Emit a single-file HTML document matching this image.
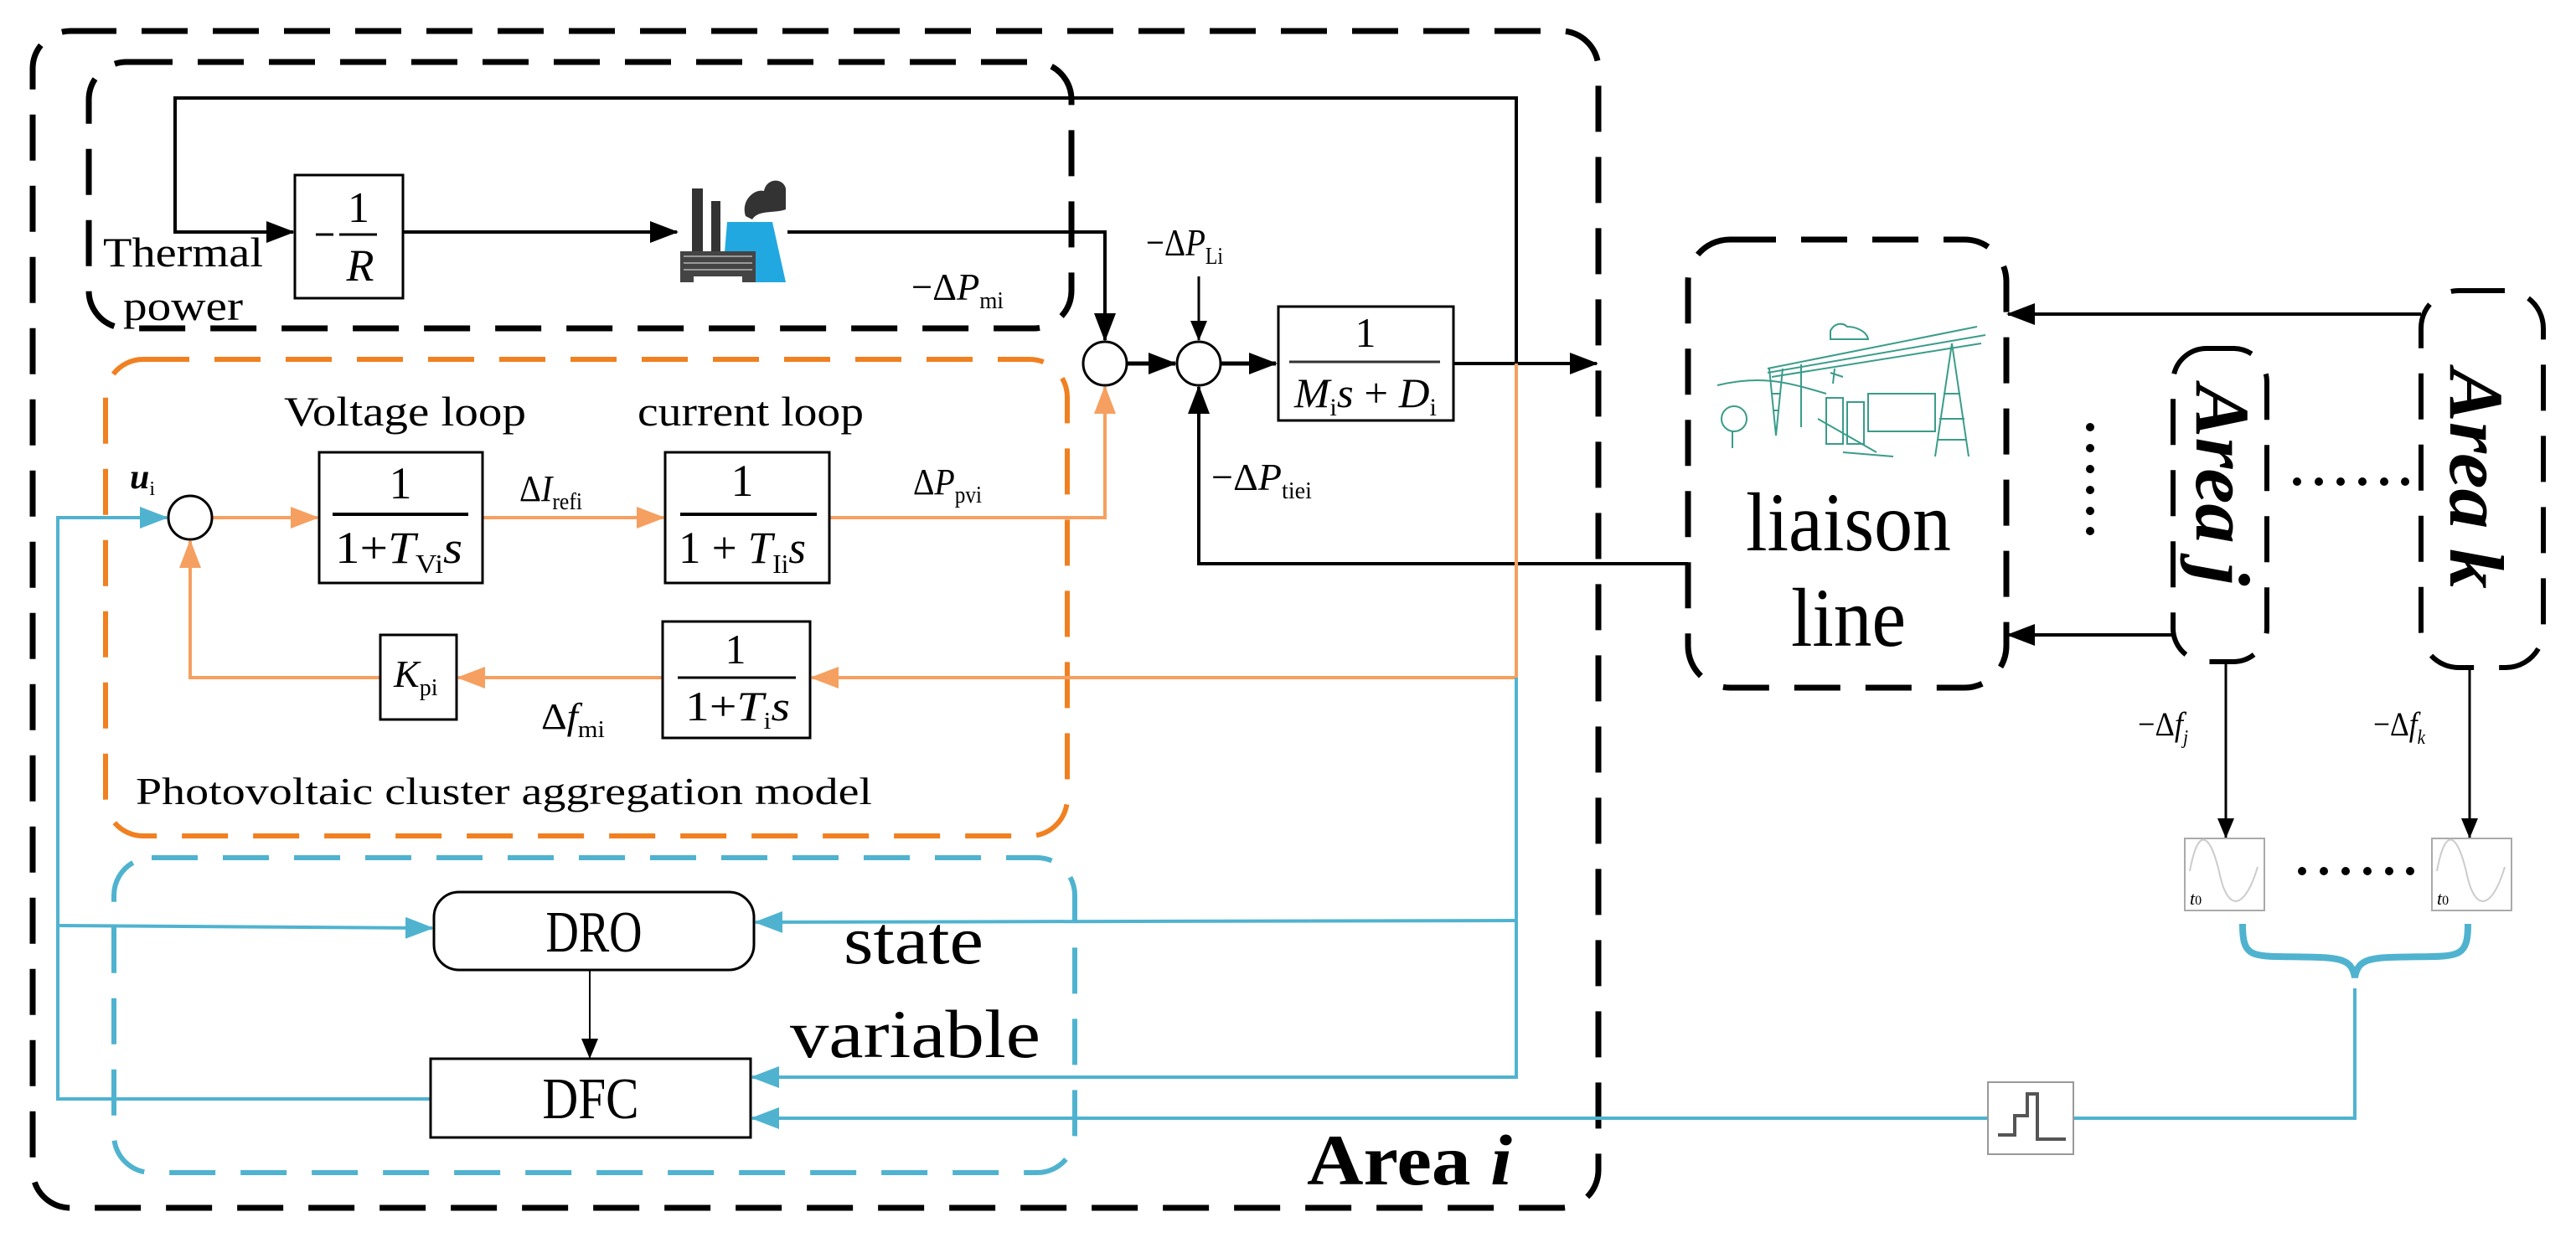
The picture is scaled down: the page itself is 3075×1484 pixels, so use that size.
<!DOCTYPE html>
<html><head><meta charset="utf-8"><style>
html,body{margin:0;padding:0;background:#fff;}
svg{display:block;}
text{font-family:"Liberation Serif",serif;fill:#000;}
</style></head><body>
<svg width="3075" height="1484" viewBox="0 0 3075 1484" xmlns="http://www.w3.org/2000/svg">
<defs>
<marker id="ab" markerUnits="userSpaceOnUse" markerWidth="34" markerHeight="26" refX="32" refY="13" orient="auto"><path d="M0,0 L34,13 L0,26 Z" fill="#000"/></marker>
<marker id="abs" markerUnits="userSpaceOnUse" markerWidth="24" markerHeight="20" refX="23" refY="10" orient="auto"><path d="M0,0 L24,10 L0,20 Z" fill="#000"/></marker>
<marker id="ao" markerUnits="userSpaceOnUse" markerWidth="34" markerHeight="26" refX="32" refY="13" orient="auto"><path d="M0,0 L34,13 L0,26 Z" fill="#f5a060"/></marker>
<marker id="ac" markerUnits="userSpaceOnUse" markerWidth="34" markerHeight="26" refX="32" refY="13" orient="auto"><path d="M0,0 L34,13 L0,26 Z" fill="#4fb3d0"/></marker>
</defs>

<!-- Dashed containers -->
<rect x="39" y="37" width="1869" height="1405" rx="45" fill="none" stroke="#000" stroke-width="7" stroke-dasharray="55 30"/>
<rect x="106" y="74" width="1173" height="318" rx="45" fill="none" stroke="#000" stroke-width="7" stroke-dasharray="55 30"/>
<rect x="126" y="429" width="1148" height="569" rx="45" fill="none" stroke="#f08020" stroke-width="6" stroke-dasharray="55 30"/>
<rect x="136" y="1024" width="1147" height="376" rx="45" fill="none" stroke="#4fb3d0" stroke-width="6" stroke-dasharray="55 30"/>
<rect x="2015" y="286" width="380" height="535" rx="50" fill="none" stroke="#000" stroke-width="7" stroke-dasharray="55 30"/>
<rect x="2594" y="416" width="112" height="374" rx="40" fill="none" stroke="#000" stroke-width="6" stroke-dasharray="55 30"/>
<rect x="2890" y="347" width="146" height="450" rx="45" fill="none" stroke="#000" stroke-width="6" stroke-dasharray="55 30"/>

<!-- Black signal lines -->
<polyline points="1810,434 1810,117 209,117 209,277 350,277" fill="none" stroke="#000" stroke-width="4" marker-end="url(#ab)"/>
<line x1="481" y1="277" x2="808" y2="277" stroke="#000" stroke-width="4" marker-end="url(#ab)"/>
<polyline points="940,277 1319,277 1319,406" fill="none" stroke="#000" stroke-width="4" marker-end="url(#ab)"/>
<line x1="1345" y1="434" x2="1403" y2="434" stroke="#000" stroke-width="5" marker-end="url(#ab)"/>
<line x1="1431" y1="330" x2="1431" y2="406" stroke="#000" stroke-width="3" marker-end="url(#abs)"/>
<line x1="1457" y1="434" x2="1523" y2="434" stroke="#000" stroke-width="5" marker-end="url(#ab)"/>
<line x1="1735" y1="434" x2="1906" y2="434" stroke="#000" stroke-width="4" marker-end="url(#ab)"/>
<polyline points="2015,673 1431,673 1431,462" fill="none" stroke="#000" stroke-width="4" marker-end="url(#ab)"/>
<line x1="2890" y1="375" x2="2397" y2="375" stroke="#000" stroke-width="4" marker-end="url(#ab)"/>
<line x1="2594" y1="758" x2="2397" y2="758" stroke="#000" stroke-width="4" marker-end="url(#ab)"/>
<line x1="2657" y1="790" x2="2657" y2="1000" stroke="#000" stroke-width="3" marker-end="url(#abs)"/>
<line x1="2948" y1="797" x2="2948" y2="1000" stroke="#000" stroke-width="3" marker-end="url(#abs)"/>
<line x1="704" y1="1158" x2="704" y2="1263" stroke="#000" stroke-width="2" marker-end="url(#abs)"/>

<!-- Orange lines -->
<line x1="253" y1="618" x2="379" y2="618" stroke="#f5a060" stroke-width="4" marker-end="url(#ao)"/>
<line x1="576" y1="618" x2="792" y2="618" stroke="#f5a060" stroke-width="4" marker-end="url(#ao)"/>
<polyline points="990,618 1319,618 1319,462" fill="none" stroke="#f5a060" stroke-width="4" marker-end="url(#ao)"/>
<polyline points="1810,434 1810,809 969,809" fill="none" stroke="#f5a060" stroke-width="4" marker-end="url(#ao)"/>
<line x1="791" y1="809" x2="547" y2="809" stroke="#f5a060" stroke-width="4" marker-end="url(#ao)"/>
<polyline points="454,809 227,809 227,646" fill="none" stroke="#f5a060" stroke-width="4" marker-end="url(#ao)"/>

<!-- Blue lines -->
<polyline points="1810,809 1810,1286 898,1286" fill="none" stroke="#4fb3d0" stroke-width="4" marker-end="url(#ac)"/>
<line x1="1810" y1="1099" x2="902" y2="1101" stroke="#4fb3d0" stroke-width="4" marker-end="url(#ac)"/>
<polyline points="514,1312 69,1312 69,618 199,618" fill="none" stroke="#4fb3d0" stroke-width="4" marker-end="url(#ac)"/>
<line x1="69" y1="1105" x2="516" y2="1108" stroke="#4fb3d0" stroke-width="4" marker-end="url(#ac)"/>
<line x1="2373" y1="1335" x2="898" y2="1335" stroke="#4fb3d0" stroke-width="4" marker-end="url(#ac)"/>
<polyline points="2475,1335 2811,1335 2811,1180" fill="none" stroke="#4fb3d0" stroke-width="4"/>
<path d="M2677,1103 C2677,1150 2690,1140 2770,1143 C2800,1144 2808,1150 2811,1167 C2814,1150 2822,1144 2852,1143 C2932,1140 2946,1150 2946,1103" fill="none" stroke="#4fb3d0" stroke-width="8"/>

<!-- Summers -->
<circle cx="227" cy="618" r="26" fill="#fff" stroke="#000" stroke-width="3"/>
<circle cx="1319" cy="434" r="26" fill="#fff" stroke="#000" stroke-width="3"/>
<circle cx="1431" cy="434" r="26" fill="#fff" stroke="#000" stroke-width="3"/>

<!-- Blocks -->
<rect x="352" y="209" width="129" height="147" fill="#fff" stroke="#000" stroke-width="3"/>
<text x="428" y="265" font-size="52" text-anchor="middle">1</text>
<line x1="377" y1="280" x2="398" y2="280" stroke="#000" stroke-width="3"/>
<line x1="405" y1="280" x2="450" y2="280" stroke="#000" stroke-width="3"/>
<text x="430" y="335" font-size="54" font-style="italic" text-anchor="middle">R</text>

<rect x="381" y="540" width="195" height="156" fill="#fff" stroke="#000" stroke-width="3"/>
<text x="478" y="595" font-size="54" text-anchor="middle">1</text>
<line x1="397" y1="614" x2="559" y2="614" stroke="#000" stroke-width="4"/>
<text x="400" y="672" font-size="54" textLength="152" lengthAdjust="spacingAndGlyphs">1+<tspan font-style="italic">T</tspan><tspan font-size="32" dy="12">Vi</tspan><tspan font-style="italic" dy="-12">s</tspan></text>

<rect x="794" y="540" width="196" height="156" fill="#fff" stroke="#000" stroke-width="3"/>
<text x="886" y="592" font-size="54" text-anchor="middle">1</text>
<line x1="812" y1="614" x2="975" y2="614" stroke="#000" stroke-width="4"/>
<text x="810" y="672" font-size="54" textLength="152" lengthAdjust="spacingAndGlyphs">1 + <tspan font-style="italic">T</tspan><tspan font-size="32" dy="12">Ii</tspan><tspan font-style="italic" dy="-12">s</tspan></text>

<rect x="1526" y="366" width="209" height="136" fill="#fff" stroke="#000" stroke-width="3"/>
<text x="1630" y="414" font-size="50" text-anchor="middle">1</text>
<line x1="1539" y1="432" x2="1719" y2="432" stroke="#333" stroke-width="3"/>
<text x="1545" y="486" font-size="50" textLength="170" lengthAdjust="spacingAndGlyphs"><tspan font-style="italic">M</tspan><tspan font-size="30" dy="10">i</tspan><tspan font-style="italic" dy="-10">s</tspan> + <tspan font-style="italic">D</tspan><tspan font-size="30" dy="10">i</tspan></text>

<rect x="454" y="758" width="91" height="101" fill="#fff" stroke="#000" stroke-width="3"/>
<text x="470" y="820" font-size="46" font-style="italic">K<tspan font-style="normal" font-size="28" dy="10">pi</tspan></text>

<rect x="791" y="742" width="176" height="139" fill="#fff" stroke="#000" stroke-width="3"/>
<text x="878" y="792" font-size="50" text-anchor="middle">1</text>
<line x1="809" y1="809" x2="950" y2="809" stroke="#000" stroke-width="3"/>
<text x="818" y="860" font-size="50" textLength="125" lengthAdjust="spacingAndGlyphs">1+<tspan font-style="italic">T</tspan><tspan font-size="28" dy="10">i</tspan><tspan font-style="italic" dy="-10">s</tspan></text>

<rect x="518" y="1065" width="382" height="93" rx="30" fill="#fff" stroke="#000" stroke-width="3"/>
<text x="709" y="1136" font-size="70" text-anchor="middle" font-family="Liberation Mono, monospace" textLength="115" lengthAdjust="spacingAndGlyphs">DRO</text>
<rect x="514" y="1264" width="382" height="94" fill="#fff" stroke="#000" stroke-width="3"/>
<text x="705" y="1335" font-size="70" text-anchor="middle" font-family="Liberation Mono, monospace" textLength="115" lengthAdjust="spacingAndGlyphs">DFC</text>

<!-- Labels -->
<text x="123" y="318" font-size="50" textLength="191" lengthAdjust="spacingAndGlyphs">Thermal</text>
<text x="147" y="382" font-size="50" textLength="143" lengthAdjust="spacingAndGlyphs">power</text>
<text x="1088" y="358" font-size="46" textLength="110" lengthAdjust="spacingAndGlyphs">−Δ<tspan font-style="italic">P</tspan><tspan font-size="28" dy="10">mi</tspan></text>
<text x="1368" y="305" font-size="46" textLength="92" lengthAdjust="spacingAndGlyphs">−Δ<tspan font-style="italic">P</tspan><tspan font-size="28" dy="10">Li</tspan></text>
<text x="1446" y="585" font-size="46" textLength="120" lengthAdjust="spacingAndGlyphs">−Δ<tspan font-style="italic">P</tspan><tspan font-size="28" dy="10">tiei</tspan></text>
<text x="339" y="508" font-size="50" textLength="289" lengthAdjust="spacingAndGlyphs">Voltage loop</text>
<text x="761" y="508" font-size="50" textLength="270" lengthAdjust="spacingAndGlyphs">current loop</text>
<text x="155" y="583" font-size="42" font-style="italic" font-weight="bold">u<tspan font-size="24" font-style="normal" font-weight="normal" dy="8">i</tspan></text>
<text x="620" y="598" font-size="44" textLength="75" lengthAdjust="spacingAndGlyphs">Δ<tspan font-style="italic">I</tspan><tspan font-size="28" dy="10">refi</tspan></text>
<text x="1090" y="590" font-size="44" textLength="82" lengthAdjust="spacingAndGlyphs">Δ<tspan font-style="italic">P</tspan><tspan font-size="28" dy="10">pvi</tspan></text>
<text x="646" y="870" font-size="44" textLength="76" lengthAdjust="spacingAndGlyphs">Δ<tspan font-style="italic">f</tspan><tspan font-size="28" dy="10">mi</tspan></text>
<text x="162" y="960" font-size="46" textLength="879" lengthAdjust="spacingAndGlyphs">Photovoltaic cluster aggregation model</text>
<text x="1007" y="1150" font-size="82" textLength="167" lengthAdjust="spacingAndGlyphs">state</text>
<text x="943" y="1262" font-size="82" textLength="299" lengthAdjust="spacingAndGlyphs">variable</text>
<text x="1560" y="1414" font-size="86" font-weight="bold" textLength="245" lengthAdjust="spacingAndGlyphs">Area <tspan font-style="italic">i</tspan></text>
<text x="2084" y="657" font-size="100" textLength="245" lengthAdjust="spacingAndGlyphs">liaison</text>
<text x="2138" y="771" font-size="100" textLength="137" lengthAdjust="spacingAndGlyphs">line</text>
<text x="2552" y="878" font-size="40" textLength="60" lengthAdjust="spacingAndGlyphs">−Δ<tspan font-style="italic">f</tspan><tspan font-size="24" font-style="italic" dy="10">j</tspan></text>
<text x="2833" y="878" font-size="40" textLength="62" lengthAdjust="spacingAndGlyphs">−Δ<tspan font-style="italic">f</tspan><tspan font-size="24" font-style="italic" dy="10">k</tspan></text>

<text transform="translate(2622,459) rotate(90)" font-size="92" font-weight="bold" font-style="italic" textLength="240" lengthAdjust="spacingAndGlyphs">Area j</text>
<text transform="translate(2925,440) rotate(90)" font-size="92" font-weight="bold" font-style="italic" textLength="263" lengthAdjust="spacingAndGlyphs">Area k</text>

<!-- dots -->
<g fill="#000">
<circle cx="2495" cy="510" r="5"/><circle cx="2495" cy="535" r="5"/><circle cx="2495" cy="560" r="5"/><circle cx="2495" cy="585" r="5"/><circle cx="2495" cy="610" r="5"/><circle cx="2495" cy="634" r="5"/>
<circle cx="2742" cy="575" r="5"/><circle cx="2768" cy="575" r="5"/><circle cx="2794" cy="575" r="5"/><circle cx="2820" cy="575" r="5"/><circle cx="2846" cy="575" r="5"/><circle cx="2871" cy="575" r="5"/>
<circle cx="2748" cy="1040" r="5"/><circle cx="2774" cy="1040" r="5"/><circle cx="2800" cy="1040" r="5"/><circle cx="2826" cy="1040" r="5"/><circle cx="2852" cy="1040" r="5"/><circle cx="2877" cy="1040" r="5"/>
</g>

<!-- signal icons -->
<g>
<rect x="2608" y="1001" width="95" height="86" fill="#fff" stroke="#aaa" stroke-width="2"/>
<path d="M2614,1040 C2625,980 2640,1000 2650,1045 C2660,1090 2680,1085 2695,1035" fill="none" stroke="#ccc" stroke-width="2"/>
<text x="2614" y="1080" font-size="22" font-style="italic">t<tspan font-size="16" font-style="normal">0</tspan></text>
<rect x="2903" y="1001" width="95" height="86" fill="#fff" stroke="#aaa" stroke-width="2"/>
<path d="M2909,1040 C2920,980 2935,1000 2945,1045 C2955,1090 2975,1085 2990,1035" fill="none" stroke="#ccc" stroke-width="2"/>
<text x="2909" y="1080" font-size="22" font-style="italic">t<tspan font-size="16" font-style="normal">0</tspan></text>
<rect x="2373" y="1292" width="102" height="86" fill="#fff" stroke="#999" stroke-width="2"/>
<path d="M2385,1355 L2405,1355 L2405,1332 L2420,1332 L2420,1306 L2432,1306 L2432,1360 L2466,1360" fill="none" stroke="#555" stroke-width="4"/>
</g>

<!-- factory -->
<g>
<rect x="826" y="225" width="13" height="78" fill="#333"/>
<rect x="849" y="240" width="11" height="63" fill="#333"/>
<path d="M868,265 L922,265 L938,337 L862,337 Z" fill="#22a8e0"/>
<path d="M890,258 C884,240 900,225 912,228 C915,212 935,212 938,225 L938,250 C925,255 905,250 898,262 Z" fill="#333"/>
<rect x="812" y="300" width="90" height="37" fill="#444"/>
<path d="M816,306 L898,306 M816,314 L898,314 M816,322 L898,322" stroke="#999" stroke-width="2"/>
<rect x="828" y="330" width="58" height="10" fill="#fff"/>
</g>

<!-- liaison image -->
<g fill="none" stroke="#3a9c8a" stroke-width="2">
<path d="M2050,460 C2100,448 2130,455 2180,470"/>
<path d="M2110,440 L2360,390 M2110,445 L2370,400 M2115,450 L2365,410"/>
<path d="M2112,440 L2120,520 L2128,440 M2114,470 L2126,470 M2116,490 L2124,490"/>
<path d="M2330,410 L2310,545 M2330,410 L2350,545 M2320,470 L2340,470 M2315,500 L2345,500 M2312,525 L2348,525"/>
<path d="M2150,435 L2150,510"/>
<rect x="2180" y="475" width="20" height="55"/><rect x="2205" y="480" width="20" height="50"/>
<rect x="2230" y="470" width="80" height="45"/>
<path d="M2170,500 L2240,540 M2200,540 L2260,545"/>
<circle cx="2070" cy="500" r="15"/><path d="M2068,515 L2068,535"/>
<path d="M2185,445 L2200,450 M2190,440 L2188,458"/>
<path d="M2185,395 C2190,385 2200,385 2205,390 C2215,390 2228,395 2230,405 L2185,405 Z"/>
</g>
</svg>
</body></html>
